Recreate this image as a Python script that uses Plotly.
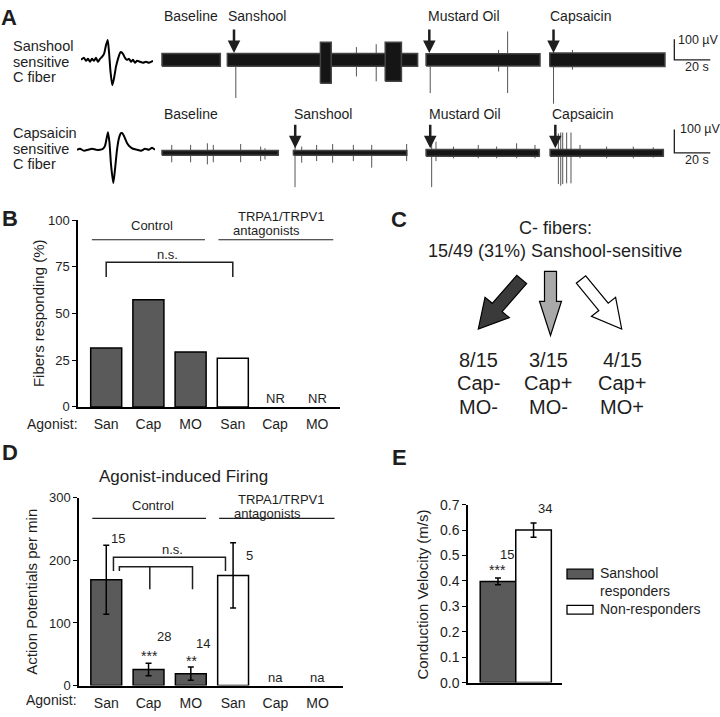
import math
import plotly.graph_objects as go

W, H = 720, 717
FONT = "Arial, Liberation Sans, sans-serif"
INK = "#1e1e1e"
DARK = "#5a5a5a"

# ---------------- data ----------------
# A: averaged spike waveforms (time offset, amplitude)
wave_san_t = [0, 3, 5, 7, 9, 11, 13, 15, 17, 19, 21, 23, 25, 26.7, 28, 29.5, 31.3, 33, 35, 37,
              39, 40, 42, 44, 46, 48, 50, 52, 54, 56, 59, 62, 65, 68, 72]
wave_san_v = [0, 2, -1, 1, -2, 1, -1, 2, -2, 1, 3, 6, 15, 20.3, 8, -12, -26, -19, -7, 1,
              7, 8, 6, 2, 0, 1, -2, 0, -3, -1, -2, -3, -2, -3, -1]
wave_cap_t = [0, 3, 7, 11, 15, 19, 23, 26, 28, 29.5, 31, 32.5, 34, 36.3, 38, 40, 42, 44, 45.3,
              47, 50, 53, 56, 60, 64, 68, 72, 75, 78]
wave_cap_v = [0, 1, -1, 0, 1, 0, 0, 1, 4, 11, 18, 7, -15, -34, -20, 0, 12, 17, 17,
              14, 7, 3, 1, 0, -1, 1, 0, 2, 0]

# A: recordings, time in s, voltage in uV
stim_labels = ["Baseline", "Sanshool", "Mustard Oil", "Capsaicin"]

san_seg_start = [0, 36.3, 146.7, 215.4]
san_seg_end = [32.4, 142, 210, 279.4]
san_noise = [31, 31, 30, 33]
san_burst_start = [88, 124]
san_burst_end = [94, 133]
san_burst_hi = [86, 86]
san_burst_lo = [-114, -105]
san_spike_t = [41, 108, 119, 149, 187, 192, 217.5, 228]
san_spike_hi = [30, 62, 76, 30, 48, 138, 30, 48]
san_spike_lo = [-186, -81, -105, -162, -57, -162, -214, -48]
san_stim_t = [40, 148.5, 217.5]

cap_seg_start = [0, 73, 146.7, 215.6]
cap_seg_end = [64.6, 136, 209.6, 278.5]
cap_noise = [10, 10, 14, 14]
cap_spike_t = [5.4, 15.9, 25.2, 28.5, 43.7, 54.8, 57.2, 73.9, 77.6, 85.9, 94.8, 106.3, 116.5,
               135.9, 149.8, 152.2, 161.9, 175.7, 185.9, 197, 207.2, 220.2, 221.5, 222.6,
               224.8, 227.2, 232.2, 247, 261.8, 272.9]
cap_spike_hi = [34, 34, 41, 34, 38, 27, 20, 52, 27, 34, 38, 34, 34, 38, 41, 48, 27, 34, 27, 41,
                34, 83, 87, 87, 87, 87, 34, 27, 27, 24]
cap_spike_lo = [-40, -40, -49, -40, -40, -35, -28, -146, -42, -35, -42, -35, -63, -35, -146,
                -35, -23, -23, -23, -23, -23, -133, -140, -133, -130, -130, -23, -23, -23, -20]
cap_stim_t = [74, 149, 218.5]

# B: fibers responding (%)
agonists = ["San", "Cap", "MO", "San", "Cap", "MO"]
b_pct = [31.6, 57.4, 29.4, 26.1]

# C: sanshool-sensitive C fibers
c_sensitive, c_total = 15, 49
c_counts = [8, 3, 4]
c_cap = ["Cap-", "Cap+", "Cap+"]
c_mo = ["MO-", "MO-", "MO+"]

# D: action potentials per min
d_rate = [169, 25.5, 19, 176]
d_sem = [55, 10, 10.5, 52]
d_n = [15, 28, 14, 5]
d_sig = ["", "***", "**", ""]

# E: conduction velocity (m/s)
e_groups = ["Sanshool<br>responders", "Non-responders"]
e_vel = [0.398, 0.600]
e_sem = [0.013, 0.028]
e_n = [15, 34]


def px(x):
    return x / W


def py(y):
    return 1 - y / H


fig = go.Figure()


def note(x, y, text, size=14, xanchor="center", yanchor="middle", xref="paper", yref="paper", **kw):
    if xref == "paper":
        x = px(x)
    if yref == "paper":
        y = py(y)
    fig.add_annotation(x=x, y=y, xref=xref, yref=yref, text=text, showarrow=False,
                       font=dict(family=FONT, size=size, color=INK), borderpad=0,
                       xanchor=xanchor, yanchor=yanchor, **kw)


# ---------------- panel A ----------------
def rects(starts, ends, his, los):
    xs, ys = [], []
    for a, b, hi, lo in zip(starts, ends, his, los):
        xs += [a, b, b, a, a, None]
        ys += [lo, lo, hi, hi, lo, None]
    return xs, ys


def sticks(ts, his, los):
    xs, ys = [], []
    for t, hi, lo in zip(ts, his, los):
        xs += [t, t, None]
        ys += [lo, hi, None]
    return xs, ys


for ax, wt, wv in [("6", wave_san_t, wave_san_v), ("7", wave_cap_t, wave_cap_v)]:
    fig.add_trace(go.Scatter(x=wt, y=wv, mode="lines",
                             line=dict(color="black", width=2, shape="spline", smoothing=0.6),
                             xaxis="x" + ax, yaxis="y" + ax, hoverinfo="skip"))

rows = [
    ("4", san_seg_start, san_seg_end, san_noise, san_spike_t, san_spike_hi, san_spike_lo),
    ("5", cap_seg_start, cap_seg_end, cap_noise, cap_spike_t, cap_spike_hi, cap_spike_lo),
]
for ax, s0, s1, nz, st, sh, sl in rows:
    sx, sy = sticks(st, sh, sl)
    fig.add_trace(go.Scatter(x=sx, y=sy, mode="lines", line=dict(color="#555", width=1),
                             xaxis="x" + ax, yaxis="y" + ax, hoverinfo="skip"))
    rx, ry = rects(s0, s1, nz, [-v for v in nz])
    fig.add_trace(go.Scatter(x=rx, y=ry, mode="lines", fill="toself", fillcolor="#151515",
                             line=dict(color="#444", width=1.5),
                             xaxis="x" + ax, yaxis="y" + ax, hoverinfo="skip"))

bx, by = rects(san_burst_start, san_burst_end, san_burst_hi, san_burst_lo)
fig.add_trace(go.Scatter(x=bx, y=by, mode="lines", fill="toself", fillcolor="#151515",
                         line=dict(color="#444", width=1.5), xaxis="x4", yaxis="y4", hoverinfo="skip"))

# stimulus arrows
for ax, stims, tip in [("4", san_stim_t, san_noise[0] + 2), ("5", cap_stim_t, cap_noise[0] + 10)]:
    for t in stims:
        fig.add_annotation(x=t, y=tip, xref="x" + ax, yref="y" + ax, text="", showarrow=True,
                           ax=0, ay=-25, arrowhead=2, arrowsize=1, arrowwidth=2.5, arrowcolor=INK)

# stimulus labels (pixel positions of the text)
for lab, x in zip(stim_labels, [163, 227, 427, 549]):
    note(x, 8, lab, size=14, xanchor="left")
for lab, x in zip(stim_labels, [163, 293, 428, 551]):
    note(x, 108, lab, size=14, xanchor="left")

# scale bars: 20 s x 100 uV
for ax in ["4", "5"]:
    fig.add_shape(type="path", path="M 284.6,100 L 284.6,0 L 304.6,0", xref="x" + ax, yref="y" + ax,
                  line=dict(color=INK, width=1.3))
note(677, 33, "100 µV", size=12.5, xanchor="left")
note(697, 60, "20 s", size=12.5)
note(679, 124, "100 µV", size=12.5, xanchor="left")
note(697, 155, "20 s", size=12.5)

for i, lab in enumerate(["Sanshool", "sensitive", "C fiber"]):
    note(12, 39 + 16 * i, lab, size=14.5, xanchor="left")
for i, lab in enumerate(["Capsaicin", "sensitive", "C fiber"]):
    note(12, 128 + 16 * i, lab, size=14.5, xanchor="left")

# ---------------- panel B ----------------
fig.add_trace(go.Bar(x=[0, 1, 2, 3], y=b_pct, width=0.735,
                     marker=dict(color=[DARK, DARK, DARK, "white"], line=dict(color="black", width=1.5)),
                     xaxis="x", yaxis="y", hoverinfo="skip"))
for i in [4, 5]:
    note(i, 4.7, "NR", size=13, xref="x", yref="y")
fig.add_shape(type="line", x0=-0.34, x1=2.34, y0=89.5, y1=89.5, xref="x", yref="y", line=dict(color=INK, width=1.2))
fig.add_shape(type="line", x0=2.66, x1=5.38, y0=89.5, y1=89.5, xref="x", yref="y", line=dict(color=INK, width=1.2))
fig.add_shape(type="path", path="M 0,69.6 L 0,77.5 L 3,77.5 L 3,69.6", xref="x", yref="y",
              line=dict(color=INK, width=1.5))
note(1.46, 81.8, "n.s.", size=13, xref="x", yref="y")
note(1.08, 96.9, "Control", size=13, xref="x", yref="y")
note(237, 213, "TRPA1/TRPV1", size=13, xanchor="left")
note(232, 228, "antagonists", size=13, xanchor="left")
note(38, 312, "Fibers responding (%)", size=15, textangle=-90)
note(79, 425, "Agonist:", size=14, xanchor="right")

# ---------------- panel C ----------------
def block_arrow(x0, y0, x1, y1, shaft, head_w, head_len):
    dx, dy = x1 - x0, y1 - y0
    L = math.hypot(dx, dy)
    ux, uy = dx / L, dy / L
    nx, ny = -uy, ux
    bx_, by_ = x1 - ux * head_len, y1 - uy * head_len
    pts = [(x0 + nx * shaft / 2, y0 + ny * shaft / 2), (bx_ + nx * shaft / 2, by_ + ny * shaft / 2),
           (bx_ + nx * head_w / 2, by_ + ny * head_w / 2), (x1, y1),
           (bx_ - nx * head_w / 2, by_ - ny * head_w / 2), (bx_ - nx * shaft / 2, by_ - ny * shaft / 2),
           (x0 - nx * shaft / 2, y0 - ny * shaft / 2)]
    return "M " + " L ".join(f"{px(x):.5f},{py(y):.5f}" for x, y in pts) + " Z"


arrows_c = [((521.7, 277.7, 478.3, 328.3, 13, 32, 29), "#3a3a3a"),
            ((550.5, 269.3, 550.5, 335, 12, 22, 35), "#a9a9a9"),
            ((581, 277.7, 621.7, 328.3, 12, 31, 29), "white")]
for geom, col in arrows_c:
    fig.add_shape(type="path", path=block_arrow(*geom), xref="paper", yref="paper",
                  fillcolor=col, line=dict(color="black", width=1.2))

note(555, 225, "C- fibers:", size=18)
note(555, 249, f"{c_sensitive}/{c_total} ({round(100 * c_sensitive / c_total)}%) Sanshool-sensitive", size=18)
for xc, n, cp, mo in zip([478, 548, 622], c_counts, c_cap, c_mo):
    note(xc, 360, f"{n}/{c_sensitive}", size=20)
    note(xc, 384, cp, size=20)
    note(xc, 408, mo, size=20)

# ---------------- panel D ----------------
fig.add_trace(go.Bar(x=[0, 1, 2, 3], y=d_rate, width=0.73,
                     marker=dict(color=[DARK, DARK, DARK, "white"], line=dict(color="black", width=1.5)),
                     error_y=dict(type="data", array=d_sem, color="black", thickness=1.5, width=3),
                     xaxis="x2", yaxis="y2", hoverinfo="skip"))
for i in [4, 5]:
    note(i, 12.5, "na", size=13, xref="x2", yref="y2")
fig.add_shape(type="line", x0=-0.33, x1=2.36, y0=267, y1=267, xref="x2", yref="y2", line=dict(color=INK, width=1.2))
fig.add_shape(type="line", x0=2.67, x1=5.4, y0=267, y1=267, xref="x2", yref="y2", line=dict(color=INK, width=1.2))
fig.add_shape(type="path", path="M 0.17,183 L 0.17,205 L 2.82,205 L 2.82,183", xref="x2", yref="y2",
              line=dict(color=INK, width=1.5))
fig.add_shape(type="path", path="M 0.31,183 L 0.31,190 L 2.04,190 L 2.04,154 M 1.03,190 L 1.03,154",
              xref="x2", yref="y2", line=dict(color=INK, width=1.5))
note(1.57, 218, "n.s.", size=13, xref="x2", yref="y2")
n_pos = [(0.27, 235), (1.36, 78), (2.29, 67), (3.38, 208)]
for (xn, yn), n in zip(n_pos, d_n):
    note(xn, yn, str(n), size=13, xref="x2", yref="y2")
for (xs, ys), s in zip([(0, 0), (1.02, 47), (2.02, 39), (0, 0)], d_sig):
    if s:
        note(xs, ys, s, size=14, xref="x2", yref="y2")
note(1.1, 287.5, "Control", size=13, xref="x2", yref="y2")
note(237, 503, "TRPA1/TRPV1", size=13, xanchor="left")
note(233, 517, "antagonists", size=13, xanchor="left")
note(183, 479, "Agonist-induced Firing", size=17)
note(32, 597, "Action Potentials per min", size=15, textangle=-90)
note(78, 708, "Agonist:", size=14, xanchor="right")

# ---------------- panel E ----------------
for i, (g, v, e, col) in enumerate(zip(e_groups, e_vel, e_sem, [DARK, "white"])):
    fig.add_trace(go.Bar(x=[i], y=[v], width=1.0, name=g,
                         marker=dict(color=col, line=dict(color="black", width=1.5)),
                         error_y=dict(type="data", array=[e], color="black", thickness=1.5, width=3),
                         xaxis="x3", yaxis="y3", hoverinfo="skip"))
note(0.24, 0.504, str(e_n[0]), size=13, xref="x3", yref="y3")
note(-0.01, 0.442, "***", size=14, xref="x3", yref="y3")
note(1.33, 0.685, str(e_n[1]), size=13, xref="x3", yref="y3")
note(423, 600, "Conduction Velocity (m/s)", size=15, textangle=-90)
for (y0, y1), col in zip([(574, 584), (611, 620)], [DARK, "white"]):
    fig.add_shape(type="rect", x0=px(567), x1=px(593), y0=py(y1), y1=py(y0), xref="paper", yref="paper",
                  fillcolor=col, line=dict(color="black", width=1.3))
note(599, 587, e_groups[0], size=14, xanchor="left", align="left")
note(599, 615, e_groups[1], size=14, xanchor="left")

# panel letters
for lab, x, y in [("A", 0, 10), ("B", 1, 215), ("C", 390, 216), ("D", 1, 455), ("E", 391, 460)]:
    note(x, y, f"<b>{lab}</b>", size=22, xanchor="left")

# ---------------- axes ----------------
hidden = dict(visible=False, fixedrange=True)
yax = dict(showgrid=False, zeroline=False, showline=True, linecolor="black", linewidth=1.5,
           ticks="outside", ticklen=4, tickwidth=1.3, tickcolor="black",
           tickfont=dict(family=FONT, size=13, color=INK))
xax = dict(showgrid=False, zeroline=False, showline=True, linecolor="black", linewidth=1.5, ticks="",
           tickvals=list(range(6)), ticktext=agonists, tickfont=dict(family=FONT, size=14, color=INK),
           ticklabelstandoff=4)

fig.update_layout(
    width=W, height=H, margin=dict(l=0, r=0, t=0, b=0),
    paper_bgcolor="white", plot_bgcolor="rgba(0,0,0,0)", showlegend=False,
    font=dict(family=FONT, color=INK), hovermode=False,
    xaxis=dict(xax, domain=[px(78), px(340)], range=[-0.668, 5.54], anchor="y"),
    yaxis=dict(yax, domain=[py(408), py(217)], range=[0, 100], tickvals=[0, 25, 50, 75, 100], anchor="x"),
    xaxis2=dict(xax, domain=[px(79), px(343)], range=[-0.645, 5.6], anchor="y2"),
    yaxis2=dict(yax, domain=[py(693), py(501)], range=[0, 300], tickvals=[0, 100, 200, 300], anchor="x2"),
    xaxis3=dict(showgrid=False, zeroline=False, showline=True, linecolor="black", linewidth=1.5,
                showticklabels=False, ticks="", domain=[px(468), px(562)], range=[-0.843, 1.8], anchor="y3"),
    yaxis3=dict(yax, domain=[py(690), py(508)], range=[0, 0.7], dtick=0.1, tickformat=".1f",
                tickfont=dict(family=FONT, size=14, color=INK), anchor="x3"),
    xaxis4=dict(hidden, domain=[px(160), px(715)], range=[-1.11, 307.2], anchor="y4"),
    yaxis4=dict(hidden, domain=[py(100), py(15)], range=[-224, 181], anchor="x4"),
    xaxis5=dict(hidden, domain=[px(160), px(715)], range=[-1.11, 307.2], anchor="y5"),
    yaxis5=dict(hidden, domain=[py(187), py(112)], range=[-161.8, 151], anchor="x5"),
    xaxis6=dict(hidden, domain=[px(81), px(153)], range=[0, 72], anchor="y6"),
    yaxis6=dict(hidden, domain=[py(82), py(30)], range=[-29, 23], anchor="x6"),
    xaxis7=dict(hidden, domain=[px(77), px(155)], range=[0, 78], anchor="y7"),
    yaxis7=dict(hidden, domain=[py(180), py(125)], range=[-35, 20], anchor="x7"),
)

# the page body has a default 8px margin; drop it so the figure sits at the window origin
fig.write_html("out.html", config={"displayModeBar": False},
               post_script="document.body.style.margin='0px';")
